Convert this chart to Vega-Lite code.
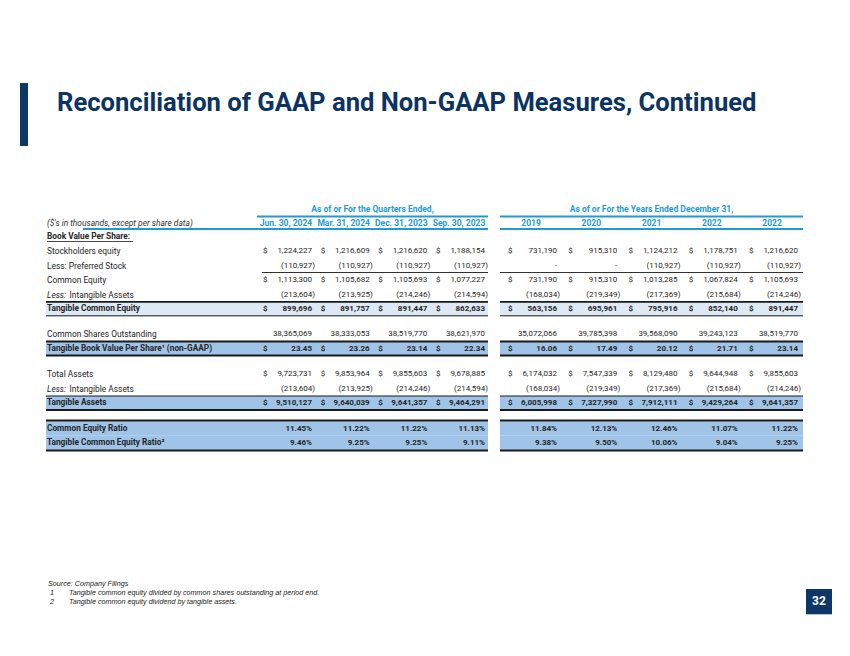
{
  "$schema": "https://vega.github.io/schema/vega-lite/v6.json",
  "autosize": {"type": "fit", "contains": "padding"},
  "width": 850,
  "height": 656,
  "padding": 0,
  "background": "white",
  "config": {"view": {"stroke": null}, "axis": {"disable": true}, "text": {"font": "Roboto", "color": "#262626", "baseline": "middle"}},
  "data": {"values": [{"slide": 32}]},
  "datasets": {
    "cells": [
      {"r": 4, "c": 1, "v": "1,224,227"}, {"r": 4, "c": 2, "v": "1,216,609"}, {"r": 4, "c": 3, "v": "1,216,620"}, {"r": 4, "c": 4, "v": "1,188,154"},
      {"r": 4, "c": 5, "v": "731,190"}, {"r": 4, "c": 6, "v": "915,310"}, {"r": 4, "c": 7, "v": "1,124,212"}, {"r": 4, "c": 8, "v": "1,178,751"}, {"r": 4, "c": 9, "v": "1,216,620"},
      {"r": 5, "c": 1, "v": "(110,927)"}, {"r": 5, "c": 2, "v": "(110,927)"}, {"r": 5, "c": 3, "v": "(110,927)"}, {"r": 5, "c": 4, "v": "(110,927)"},
      {"r": 5, "c": 5, "v": "-"}, {"r": 5, "c": 6, "v": "-"}, {"r": 5, "c": 7, "v": "(110,927)"}, {"r": 5, "c": 8, "v": "(110,927)"}, {"r": 5, "c": 9, "v": "(110,927)"},
      {"r": 6, "c": 1, "v": "1,113,300"}, {"r": 6, "c": 2, "v": "1,105,682"}, {"r": 6, "c": 3, "v": "1,105,693"}, {"r": 6, "c": 4, "v": "1,077,227"},
      {"r": 6, "c": 5, "v": "731,190"}, {"r": 6, "c": 6, "v": "915,310"}, {"r": 6, "c": 7, "v": "1,013,285"}, {"r": 6, "c": 8, "v": "1,067,824"}, {"r": 6, "c": 9, "v": "1,105,693"},
      {"r": 7, "c": 1, "v": "(213,604)"}, {"r": 7, "c": 2, "v": "(213,925)"}, {"r": 7, "c": 3, "v": "(214,246)"}, {"r": 7, "c": 4, "v": "(214,594)"},
      {"r": 7, "c": 5, "v": "(168,034)"}, {"r": 7, "c": 6, "v": "(219,349)"}, {"r": 7, "c": 7, "v": "(217,369)"}, {"r": 7, "c": 8, "v": "(215,684)"}, {"r": 7, "c": 9, "v": "(214,246)"},
      {"r": 8, "c": 1, "v": "899,696"}, {"r": 8, "c": 2, "v": "891,757"}, {"r": 8, "c": 3, "v": "891,447"}, {"r": 8, "c": 4, "v": "862,633"},
      {"r": 8, "c": 5, "v": "563,156"}, {"r": 8, "c": 6, "v": "695,961"}, {"r": 8, "c": 7, "v": "795,916"}, {"r": 8, "c": 8, "v": "852,140"}, {"r": 8, "c": 9, "v": "891,447"},
      {"r": 10, "c": 1, "v": "38,365,069"}, {"r": 10, "c": 2, "v": "38,333,053"}, {"r": 10, "c": 3, "v": "38,519,770"}, {"r": 10, "c": 4, "v": "38,621,970"},
      {"r": 10, "c": 5, "v": "35,072,066"}, {"r": 10, "c": 6, "v": "39,785,398"}, {"r": 10, "c": 7, "v": "39,568,090"}, {"r": 10, "c": 8, "v": "39,243,123"}, {"r": 10, "c": 9, "v": "38,519,770"},
      {"r": 11, "c": 1, "v": "23.45"}, {"r": 11, "c": 2, "v": "23.26"}, {"r": 11, "c": 3, "v": "23.14"}, {"r": 11, "c": 4, "v": "22.34"},
      {"r": 11, "c": 5, "v": "16.06"}, {"r": 11, "c": 6, "v": "17.49"}, {"r": 11, "c": 7, "v": "20.12"}, {"r": 11, "c": 8, "v": "21.71"}, {"r": 11, "c": 9, "v": "23.14"},
      {"r": 13, "c": 1, "v": "9,723,731"}, {"r": 13, "c": 2, "v": "9,853,964"}, {"r": 13, "c": 3, "v": "9,855,603"}, {"r": 13, "c": 4, "v": "9,678,885"},
      {"r": 13, "c": 5, "v": "6,174,032"}, {"r": 13, "c": 6, "v": "7,547,339"}, {"r": 13, "c": 7, "v": "8,129,480"}, {"r": 13, "c": 8, "v": "9,644,948"}, {"r": 13, "c": 9, "v": "9,855,603"},
      {"r": 14, "c": 1, "v": "(213,604)"}, {"r": 14, "c": 2, "v": "(213,925)"}, {"r": 14, "c": 3, "v": "(214,246)"}, {"r": 14, "c": 4, "v": "(214,594)"},
      {"r": 14, "c": 5, "v": "(168,034)"}, {"r": 14, "c": 6, "v": "(219,349)"}, {"r": 14, "c": 7, "v": "(217,369)"}, {"r": 14, "c": 8, "v": "(215,684)"}, {"r": 14, "c": 9, "v": "(214,246)"},
      {"r": 15, "c": 1, "v": "9,510,127"}, {"r": 15, "c": 2, "v": "9,640,039"}, {"r": 15, "c": 3, "v": "9,641,357"}, {"r": 15, "c": 4, "v": "9,464,291"},
      {"r": 15, "c": 5, "v": "6,005,998"}, {"r": 15, "c": 6, "v": "7,327,990"}, {"r": 15, "c": 7, "v": "7,912,111"}, {"r": 15, "c": 8, "v": "9,429,264"}, {"r": 15, "c": 9, "v": "9,641,357"},
      {"r": 17, "c": 1, "v": "11.45%"}, {"r": 17, "c": 2, "v": "11.22%"}, {"r": 17, "c": 3, "v": "11.22%"}, {"r": 17, "c": 4, "v": "11.13%"},
      {"r": 17, "c": 5, "v": "11.84%"}, {"r": 17, "c": 6, "v": "12.13%"}, {"r": 17, "c": 7, "v": "12.46%"}, {"r": 17, "c": 8, "v": "11.07%"}, {"r": 17, "c": 9, "v": "11.22%"},
      {"r": 18, "c": 1, "v": "9.46%"}, {"r": 18, "c": 2, "v": "9.25%"}, {"r": 18, "c": 3, "v": "9.25%"}, {"r": 18, "c": 4, "v": "9.11%"},
      {"r": 18, "c": 5, "v": "9.38%"}, {"r": 18, "c": 6, "v": "9.50%"}, {"r": 18, "c": 7, "v": "10.06%"}, {"r": 18, "c": 8, "v": "9.04%"}, {"r": 18, "c": 9, "v": "9.25%"}
    ],
    "labels": [
      {"r": 3, "label": "Book Value Per Share:"},
      {"r": 4, "label": "Stockholders equity"},
      {"r": 5, "label": "Less: Preferred Stock"},
      {"r": 6, "label": "Common Equity"},
      {"r": 7, "prefix": "Less:", "label": "Intangible Assets"},
      {"r": 8, "label": "Tangible Common Equity"},
      {"r": 10, "label": "Common Shares Outstanding"},
      {"r": 11, "label": "Tangible Book Value Per Share¹ (non-GAAP)"},
      {"r": 13, "label": "Total Assets"},
      {"r": 14, "prefix": "Less:", "label": "Intangible Assets"},
      {"r": 15, "label": "Tangible Assets"},
      {"r": 17, "label": "Common Equity Ratio"},
      {"r": 18, "label": "Tangible Common Equity Ratio²"}
    ],
    "cols": [
      {"c": 1, "name": "Jun. 30, 2024"}, {"c": 2, "name": "Mar. 31, 2024"}, {"c": 3, "name": "Dec. 31, 2023"}, {"c": 4, "name": "Sep. 30, 2023"},
      {"c": 5, "name": "2019"}, {"c": 6, "name": "2020"}, {"c": 7, "name": "2021"}, {"c": 8, "name": "2022"}, {"c": 9, "name": "2022"}
    ],
    "bands": [{"r": 8}, {"r": 11}, {"r": 15}, {"r": 17}, {"r": 18}],
    "rules": [{"at": 7.5}, {"at": 8.5}, {"at": 10.5}, {"at": 11.5}, {"at": 14.5}, {"at": 15.5}, {"at": 16.5}, {"at": 18.5}],
    "notes": [
      {"r": 20, "n": "", "t": "Source: Company Filings"},
      {"r": 21, "n": "1", "t": "Tangible common equity divided by common shares outstanding at period end."},
      {"r": 22, "n": "2", "t": "Tangible common equity dividend by tangible assets."}
    ]
  },
  "layer": [
    {
      "data": {"name": "bands"},
      "mark": {"type": "rule", "strokeWidth": 14.5, "xOffset": -1, "x2Offset": 3},
      "encoding": {
        "x": {"datum": 0, "type": "quantitative", "axis": null, "scale": {"type": "linear", "domain": [0, 1, 4, 5, 9], "range": [47, 312, 485, 557, 798], "nice": false, "zero": false}},
        "x2": {"datum": 4},
        "y": {"field": "r", "type": "quantitative", "axis": null, "scale": {"type": "linear", "domain": [0, 1, 1.5, 2, 2.5, 3, 4, 5, 5.5, 6, 7, 7.5, 8, 8.5, 10, 10.5, 11, 11.5, 13, 14, 14.5, 15, 15.5, 16.5, 17, 18, 18.5, 20, 21, 22], "range": [103, 209, 216.5, 223, 229, 237, 251, 265.5, 272.5, 280, 294.5, 301.8, 309, 315.8, 334, 341.5, 348.7, 355.5, 374, 388.7, 396, 403.3, 410, 420.5, 428.5, 443, 450.5, 584, 593.3, 602.3], "nice": false, "zero": false}},
        "color": {"condition": {"test": "datum.r == 8", "value": "#dde9f5"}, "value": "#9fc4e7"}
      }
    },
    {
      "data": {"name": "bands"},
      "mark": {"type": "rule", "strokeWidth": 14.5, "xOffset": -57, "x2Offset": 5},
      "encoding": {
        "x": {"datum": 5, "type": "quantitative"},
        "x2": {"datum": 9},
        "y": {"field": "r", "type": "quantitative"},
        "color": {"condition": {"test": "datum.r == 8", "value": "#dde9f5"}, "value": "#9fc4e7"}
      }
    },
    {
      "data": {"name": "rules"},
      "mark": {"type": "rule", "color": "#1a1a1a", "xOffset": -1, "x2Offset": 3},
      "encoding": {
        "x": {"datum": 0, "type": "quantitative"},
        "x2": {"datum": 4},
        "y": {"field": "at", "type": "quantitative"},
        "strokeWidth": {"condition": {"test": "datum.at == 8.5 || datum.at == 14.5", "value": 1}, "value": 1.8}
      }
    },
    {
      "data": {"name": "rules"},
      "mark": {"type": "rule", "color": "#1a1a1a", "xOffset": -57, "x2Offset": 5},
      "encoding": {
        "x": {"datum": 5, "type": "quantitative"},
        "x2": {"datum": 9},
        "y": {"field": "at", "type": "quantitative"},
        "strokeWidth": {"condition": {"test": "datum.at == 8.5 || datum.at == 14.5", "value": 1}, "value": 1.8}
      }
    },
    {
      "mark": {"type": "rule", "color": "#1a1a1a", "strokeWidth": 0.9, "xOffset": -50, "x2Offset": 3},
      "encoding": {"x": {"datum": 1, "type": "quantitative"}, "x2": {"datum": 4}, "y": {"datum": 5.5, "type": "quantitative"}}
    },
    {
      "mark": {"type": "rule", "color": "#1a1a1a", "strokeWidth": 0.9, "xOffset": -57, "x2Offset": 5},
      "encoding": {"x": {"datum": 5, "type": "quantitative"}, "x2": {"datum": 9}, "y": {"datum": 5.5, "type": "quantitative"}}
    },
    {
      "mark": {"type": "rule", "color": "#1e9ad6", "strokeWidth": 2, "xOffset": -55, "x2Offset": 3},
      "encoding": {"x": {"datum": 1, "type": "quantitative"}, "x2": {"datum": 4}, "y": {"datum": 1.5, "type": "quantitative"}}
    },
    {
      "mark": {"type": "rule", "color": "#1e9ad6", "strokeWidth": 2, "xOffset": -57, "x2Offset": 5},
      "encoding": {"x": {"datum": 5, "type": "quantitative"}, "x2": {"datum": 9}, "y": {"datum": 1.5, "type": "quantitative"}}
    },
    {
      "mark": {"type": "rule", "color": "#1e9ad6", "strokeWidth": 2, "xOffset": 36, "x2Offset": 3},
      "encoding": {"x": {"datum": 0, "type": "quantitative"}, "x2": {"datum": 4}, "y": {"datum": 2.5, "type": "quantitative"}}
    },
    {
      "mark": {"type": "rule", "color": "#1e9ad6", "strokeWidth": 2, "xOffset": -57, "x2Offset": 5},
      "encoding": {"x": {"datum": 5, "type": "quantitative"}, "x2": {"datum": 9}, "y": {"datum": 2.5, "type": "quantitative"}}
    },
    {
      "mark": {"type": "rule", "color": "#1a1a1a", "strokeWidth": 0.8, "xOffset": 0, "x2Offset": 86, "yOffset": 4.5, "y2Offset": 4.5},
      "encoding": {"x": {"datum": 0, "type": "quantitative"}, "x2": {"datum": 0}, "y": {"datum": 3, "type": "quantitative"}}
    },
    {
      "data": {"name": "cells"},
      "transform": [{"filter": "datum.r != 8 && datum.r != 11 && datum.r != 15 && datum.r != 17 && datum.r != 18 && datum.v[0] != '('"}],
      "mark": {"type": "text", "align": "right", "fontSize": 8},
      "encoding": {"x": {"field": "c", "type": "quantitative"}, "y": {"field": "r", "type": "quantitative"}, "text": {"field": "v"}}
    },
    {
      "data": {"name": "cells"},
      "transform": [{"filter": "datum.v[0] == '('"}],
      "mark": {"type": "text", "align": "right", "fontSize": 8, "dx": 3},
      "encoding": {"x": {"field": "c", "type": "quantitative"}, "y": {"field": "r", "type": "quantitative"}, "text": {"field": "v"}}
    },
    {
      "data": {"name": "cells"},
      "transform": [{"filter": "datum.r == 8 || datum.r == 11 || datum.r == 15 || datum.r == 17 || datum.r == 18"}],
      "mark": {"type": "text", "align": "right", "fontSize": 8, "fontWeight": "bold"},
      "encoding": {"x": {"field": "c", "type": "quantitative"}, "y": {"field": "r", "type": "quantitative"}, "text": {"field": "v"}}
    },
    {
      "data": {"name": "cells"},
      "transform": [{"filter": "datum.r == 4 || datum.r == 6 || datum.r == 13"}],
      "mark": {"type": "text", "align": "left", "fontSize": 8, "dx": -49, "text": "$"},
      "encoding": {"x": {"field": "c", "type": "quantitative"}, "y": {"field": "r", "type": "quantitative"}}
    },
    {
      "data": {"name": "cells"},
      "transform": [{"filter": "datum.r == 8 || datum.r == 11 || datum.r == 15"}],
      "mark": {"type": "text", "align": "left", "fontSize": 8, "fontWeight": "bold", "dx": -49, "text": "$"},
      "encoding": {"x": {"field": "c", "type": "quantitative"}, "y": {"field": "r", "type": "quantitative"}}
    },
    {
      "data": {"name": "labels"},
      "transform": [{"filter": "!datum.prefix && datum.r != 3 && datum.r != 8 && datum.r != 11 && datum.r != 15 && datum.r != 17 && datum.r != 18"}],
      "mark": {"type": "text", "align": "left", "fontSize": 8.4},
      "encoding": {"x": {"datum": 0, "type": "quantitative"}, "y": {"field": "r", "type": "quantitative"}, "text": {"field": "label"}}
    },
    {
      "data": {"name": "labels"},
      "transform": [{"filter": "datum.r == 3 || datum.r == 8 || datum.r == 11 || datum.r == 15 || datum.r == 17 || datum.r == 18"}],
      "mark": {"type": "text", "align": "left", "fontSize": 8.3, "fontWeight": "bold"},
      "encoding": {"x": {"datum": 0, "type": "quantitative"}, "y": {"field": "r", "type": "quantitative"}, "text": {"field": "label"}}
    },
    {
      "data": {"name": "labels"},
      "transform": [{"filter": "datum.prefix"}],
      "mark": {"type": "text", "align": "left", "fontSize": 8.4, "fontStyle": "italic"},
      "encoding": {"x": {"datum": 0, "type": "quantitative"}, "y": {"field": "r", "type": "quantitative"}, "text": {"field": "prefix"}}
    },
    {
      "data": {"name": "labels"},
      "transform": [{"filter": "datum.prefix"}],
      "mark": {"type": "text", "align": "left", "fontSize": 8.4, "dx": 22.5},
      "encoding": {"x": {"datum": 0, "type": "quantitative"}, "y": {"field": "r", "type": "quantitative"}, "text": {"field": "label"}}
    },
    {
      "mark": {"type": "text", "align": "left", "fontSize": 8.4, "fontStyle": "italic", "color": "#333333", "text": "($'s in thousands, except per share data)"},
      "encoding": {"x": {"datum": 0, "type": "quantitative"}, "y": {"datum": 2, "type": "quantitative"}}
    },
    {
      "data": {"name": "cols"},
      "mark": {"type": "text", "align": "center", "fontSize": 8.5, "fontWeight": "bold", "color": "#1e9ad6", "dx": -26},
      "encoding": {"x": {"field": "c", "type": "quantitative"}, "y": {"datum": 2, "type": "quantitative"}, "text": {"field": "name"}}
    },
    {
      "mark": {"type": "text", "align": "center", "fontSize": 8.5, "fontWeight": "bold", "color": "#1e9ad6", "dx": -26, "text": "As of or For the Quarters Ended,"},
      "encoding": {"x": {"datum": 2.5, "type": "quantitative"}, "y": {"datum": 1, "type": "quantitative"}}
    },
    {
      "mark": {"type": "text", "align": "center", "fontSize": 8.5, "fontWeight": "bold", "color": "#1e9ad6", "dx": -26, "text": "As of or For the Years Ended December 31,"},
      "encoding": {"x": {"datum": 7, "type": "quantitative"}, "y": {"datum": 1, "type": "quantitative"}}
    },
    {
      "mark": {"type": "rect", "color": "#0c3766", "xOffset": -27, "x2Offset": -19, "yOffset": -20, "y2Offset": 43},
      "encoding": {"x": {"datum": 0, "type": "quantitative"}, "x2": {"datum": 0}, "y": {"datum": 0, "type": "quantitative"}, "y2": {"datum": 0}}
    },
    {
      "mark": {"type": "text", "align": "left", "fontSize": 25.6, "fontWeight": "bold", "color": "#0c3462", "dx": 10, "text": "Reconciliation of GAAP and Non-GAAP Measures, Continued"},
      "encoding": {"x": {"datum": 0, "type": "quantitative"}, "y": {"datum": 0, "type": "quantitative"}}
    },
    {
      "data": {"name": "notes"},
      "mark": {"type": "text", "align": "left", "font": "Liberation Sans", "fontSize": 7.2, "fontStyle": "italic", "color": "#222222", "dx": 3},
      "encoding": {"x": {"datum": 0, "type": "quantitative"}, "y": {"field": "r", "type": "quantitative"}, "text": {"field": "n"}}
    },
    {
      "data": {"name": "notes"},
      "mark": {"type": "text", "align": "left", "font": "Liberation Sans", "fontSize": 7.2, "fontStyle": "italic", "color": "#222222", "dx": 22},
      "transform": [{"filter": "datum.n != ''"}],
      "encoding": {"x": {"datum": 0, "type": "quantitative"}, "y": {"field": "r", "type": "quantitative"}, "text": {"field": "t"}}
    },
    {
      "data": {"name": "notes"},
      "mark": {"type": "text", "align": "left", "font": "Liberation Sans", "fontSize": 7.2, "fontStyle": "italic", "color": "#222222", "dx": 1},
      "transform": [{"filter": "datum.n == ''"}],
      "encoding": {"x": {"datum": 0, "type": "quantitative"}, "y": {"field": "r", "type": "quantitative"}, "text": {"field": "t"}}
    },
    {
      "mark": {"type": "rect", "color": "#0c3766", "xOffset": 8, "x2Offset": 34, "yOffset": -4.3, "y2Offset": 21},
      "encoding": {"x": {"datum": 9, "type": "quantitative"}, "x2": {"datum": 9}, "y": {"datum": 21, "type": "quantitative"}, "y2": {"datum": 21}}
    },
    {
      "mark": {"type": "text", "align": "center", "fontSize": 12, "fontWeight": "bold", "color": "white", "dx": 21, "dy": 8},
      "encoding": {"x": {"datum": 9, "type": "quantitative"}, "y": {"datum": 21, "type": "quantitative"}, "text": {"field": "slide"}}
    }
  ]
}
